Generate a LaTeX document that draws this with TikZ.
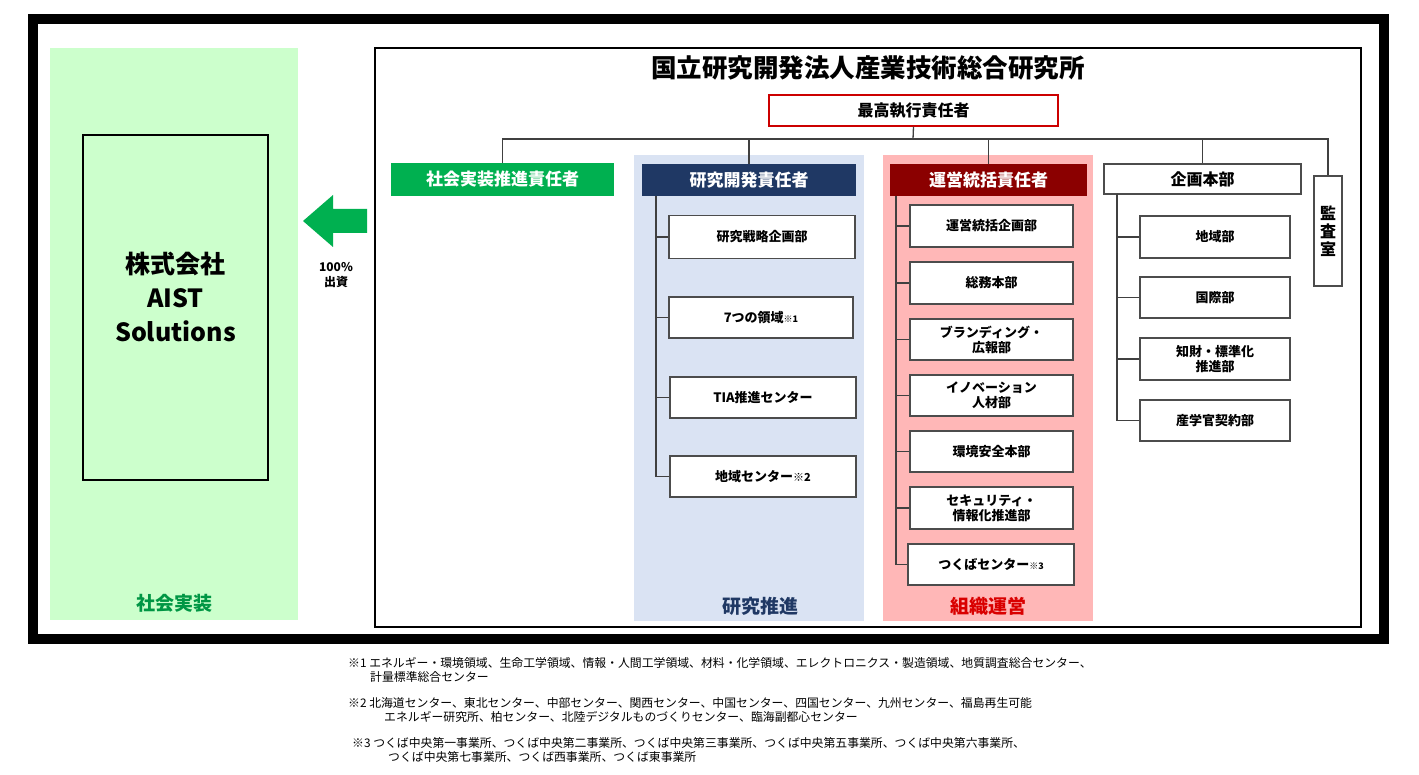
\documentclass[tikz,border=0pt]{standalone}
\usepackage{fontspec}
\setmainfont{Noto Sans CJK JP}
\usetikzlibrary{positioning}
\definecolor{panelgreen}{HTML}{CCFFCC}
\definecolor{panelblue}{HTML}{DAE3F3}
\definecolor{panelred}{HTML}{FFB7B7}
\definecolor{navy}{HTML}{1F3864}
\definecolor{darkred}{HTML}{8B0000}
\definecolor{brightgreen}{HTML}{00B050}
\tikzset{
  x=1pt,y=-1pt,
  ln/.style={line width=1.3pt, draw=black!75},
  sub/.style={draw=black!70, line width=1.3pt, fill=white, font=\fontsize{13}{15}\selectfont\bfseries, align=center, inner sep=0pt},
  head/.style={font=\fontsize{17}{19}\selectfont\bfseries, text=white, inner sep=0pt},
  lab/.style={font=\fontsize{19}{21}\selectfont\bfseries},
  fn/.style={font=\fontsize{11.85}{14}\selectfont, anchor=north west, align=left, inner sep=0pt},
}
\begin{document}
\begin{tikzpicture}
\useasboundingbox (0,0) rectangle (1419,775);
\fill[white] (0,0) rectangle (1419,775);
\draw[line width=10pt] (33,19) rectangle (1384,639);
% left
\fill[panelgreen] (50,48) rectangle (298,620);
\node[lab, text=brightgreen!85!black] (lg) at (174,603) {社会実装};
\node[draw, line width=1.5pt, minimum width=185pt, minimum height=345pt] (aist) at (175.5,307.5) {};
\node[font=\fontsize{25}{34}\selectfont\bfseries, align=center] (aisttext) at (175.5,297) {株式会社\\AIST\\Solutions};
\fill[brightgreen] (303,221) -- (333,195) -- (333,209) -- (367,209) -- (367,233) -- (333,233) -- (333,247) -- cycle;
\node[font=\fontsize{12}{15}\selectfont\bfseries, align=center] (inv) at (336,275) {100\%\\出資};
% main
\draw[line width=1.5pt] (375,48) rectangle (1361,627);
\node[font=\fontsize{25.5}{28}\selectfont\bfseries] (title) at (868,68) {国立研究開発法人産業技術総合研究所};
\node[draw=red!80!black, line width=1.3pt, minimum width=289pt, minimum height=31pt, font=\fontsize{16}{18}\selectfont\bfseries, inner sep=0pt] (coo) at (913.5,110.5) {最高執行責任者};
\fill[panelblue] (634,155) rectangle (864,621);
\fill[panelred] (883,155) rectangle (1093,621);
\node[lab, text=navy] (lb) at (760,606) {研究推進};
\node[lab, text=red!85!black] (lr) at (988,606) {組織運営};
\node[head, fill=brightgreen, minimum width=223pt, minimum height=33pt] (soc) at (502.5,179.5) {社会実装推進責任者};
\node[head, fill=navy, minimum width=214pt, minimum height=32pt] (rd) at (749,180) {研究開発責任者};
\node[head, fill=darkred, minimum width=197pt, minimum height=32pt] (op) at (988.5,180) {運営統括責任者};
\node[sub, font=\fontsize{16}{18}\selectfont\bfseries, minimum width=197pt, minimum height=30pt] (plan) at (1202.5,179) {企画本部};
\node[sub, font=\fontsize{16}{18}\selectfont\bfseries, minimum width=28pt, minimum height=110pt] (audit) at (1328,231) {監\\査\\室};
\coordinate (bar) at (913,139);
\draw[ln] (coo.south) -- (bar);
\draw[ln] (soc.north) |- (bar);
\draw[ln] (audit.north) |- (bar);
\draw[ln] (rd.north) -- (rd.north |- bar);
\draw[ln] (op.north) -- (op.north |- bar);
\draw[ln] (plan.north) -- (plan.north |- bar);
% blue subs
\node[sub, minimum width=186pt, minimum height=43pt] (b1) at (762,237) {研究戦略企画部};
\node[sub, minimum width=184pt, minimum height=41pt] (b2) at (761,317.5) {7つの領域{\fontsize{9}{10}\selectfont ※1}};
\node[sub, minimum width=186pt, minimum height=41pt] (b3) at (763,397.5) {TIA推進センター};
\node[sub, minimum width=186pt, minimum height=41pt] (b4) at (763,476.5) {地域センター{\fontsize{11}{12}\selectfont ※2}};
\coordinate (bt) at (656,196);
\foreach \b in {b1,b2,b3,b4} \draw[ln] (bt) |- (\b.west);
% red subs
\coordinate (rt) at (896,196);
\node[sub, minimum width=163pt, minimum height=42pt] (r1) at (991.5,226) {運営統括企画部};
\node[sub, minimum width=163pt, minimum height=42pt] (r2) at (991.5,283) {総務本部};
\node[sub, minimum width=163pt, minimum height=41pt] (r3) at (991.5,339.5) {ブランディング・\\広報部};
\node[sub, minimum width=163pt, minimum height=41pt] (r4) at (991.5,395.5) {イノベーション\\人材部};
\node[sub, minimum width=163pt, minimum height=41pt] (r5) at (991.5,451.5) {環境安全本部};
\node[sub, minimum width=163pt, minimum height=42pt] (r6) at (991.5,508) {セキュリティ・\\情報化推進部};
\node[sub, minimum width=166pt, minimum height=41pt] (r7) at (991,564.5) {つくばセンター{\fontsize{9}{10}\selectfont ※3}};
\foreach \b in {r1,r2,r3,r4,r5,r6,r7} \draw[ln] (rt) |- (\b.west);
% plan subs
\coordinate (pt) at (1117,194);
\node[sub, minimum width=150pt, minimum height=42pt] (p1) at (1215,237) {地域部};
\node[sub, minimum width=150pt, minimum height=41pt] (p2) at (1215,297.5) {国際部};
\node[sub, minimum width=150pt, minimum height=42pt] (p3) at (1215,359) {知財・標準化\\推進部};
\node[sub, minimum width=150pt, minimum height=41pt] (p4) at (1215,420.5) {産学官契約部};
\foreach \b in {p1,p2,p3,p4} \draw[ln] (pt) |- (\b.west);
% footnotes
\node[fn] (f1) at (348,657) {※1 エネルギー・環境領域、生命工学領域、情報・人間工学領域、材料・化学領域、エレクトロニクス・製造領域、地質調査総合センター、\\\hspace{22pt}計量標準総合センター};
\node[fn] (f2) at (348,697) {※2 北海道センター、東北センター、中部センター、関西センター、中国センター、四国センター、九州センター、福島再生可能\\\hspace{36pt}エネルギー研究所、柏センター、北陸デジタルものづくりセンター、臨海副都心センター};
\node[fn] (f3) at (352,737) {※3 つくば中央第一事業所、つくば中央第二事業所、つくば中央第三事業所、つくば中央第五事業所、つくば中央第六事業所、\\\hspace{36pt}つくば中央第七事業所、つくば西事業所、つくば東事業所};
\end{tikzpicture}
\end{document}
